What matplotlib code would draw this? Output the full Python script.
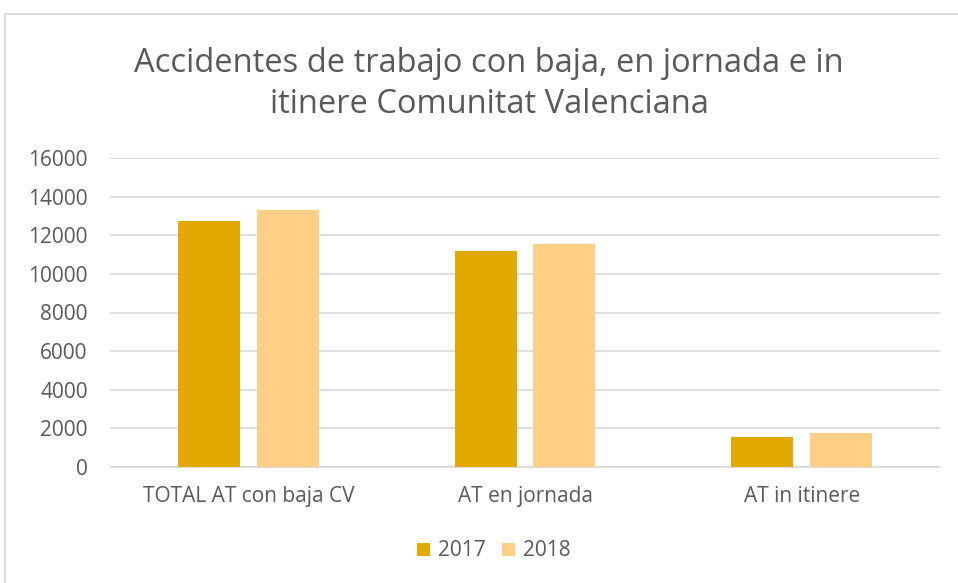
import matplotlib.pyplot as plt
import numpy as np
from matplotlib.patches import Rectangle

# datos
categorias = ["TOTAL AT con baja CV", "AT en jornada", "AT in itinere"]
series = ["2017", "2018"]
valores_2017 = [12740, 11180, 1570]
valores_2018 = [13300, 11550, 1745]
yticks = [0, 2000, 4000, 6000, 8000, 10000, 12000, 14000, 16000]

col_2017 = "#E2AA00"
col_2018 = "#FFCF87"
gris_txt = "#595959"
gris_lin = "#D9D9D9"

plt.rcParams['font.family'] = ['Open Sans', 'DejaVu Sans']

W, H = 958, 583
fig = plt.figure(figsize=(W / 100, H / 100), dpi=100)

# marco gris del gráfico
fig.patches.append(Rectangle((5 / W, -0.1), 1.2, (H - 14) / H + 0.1,
                             transform=fig.transFigure, fill=False,
                             edgecolor=gris_lin, linewidth=1.3))

ax = fig.add_axes([110 / W, (H - 467) / H, 830 / W, 309 / H])

x = np.arange(len(categorias))
ancho = 0.224
desp = 0.1426
ax.bar(x - desp, valores_2017, ancho, color=col_2017, label=series[0], zorder=3)
ax.bar(x + desp, valores_2018, ancho, color=col_2018, label=series[1], zorder=3)

ax.set_xlim(-0.5, len(categorias) - 0.5)
ax.set_ylim(0, 16000)
ax.set_yticks(yticks)
ax.set_yticklabels([str(v) for v in yticks])
ax.set_xticks(x)
ax.set_xticklabels(categorias)
ax.tick_params(axis='both', length=0, labelsize=15, colors=gris_txt)
ax.tick_params(axis='y', pad=16)
ax.tick_params(axis='x', pad=14)
ax.yaxis.grid(True, color=gris_lin, linewidth=1.2, zorder=0)
for s in ['top', 'right', 'left']:
    ax.spines[s].set_visible(False)
ax.spines['bottom'].set_color(gris_lin)
ax.spines['bottom'].set_linewidth(1.2)

fig.text(489 / W, 1 - 84 / H,
         "Accidentes de trabajo con baja, en jornada e in\nitinere Comunitat Valenciana",
         ha='center', va='center', fontsize=23.5, color=gris_txt, linespacing=1.3)

leg = fig.legend(loc='center', bbox_to_anchor=(494 / W, 1 - 551 / H), ncol=2,
                 frameon=False, fontsize=15, handlelength=0.6, handleheight=0.6,
                 handletextpad=0.4, columnspacing=0.8)
for t in leg.get_texts():
    t.set_color(gris_txt)

fig.savefig("out.png", dpi=100)
